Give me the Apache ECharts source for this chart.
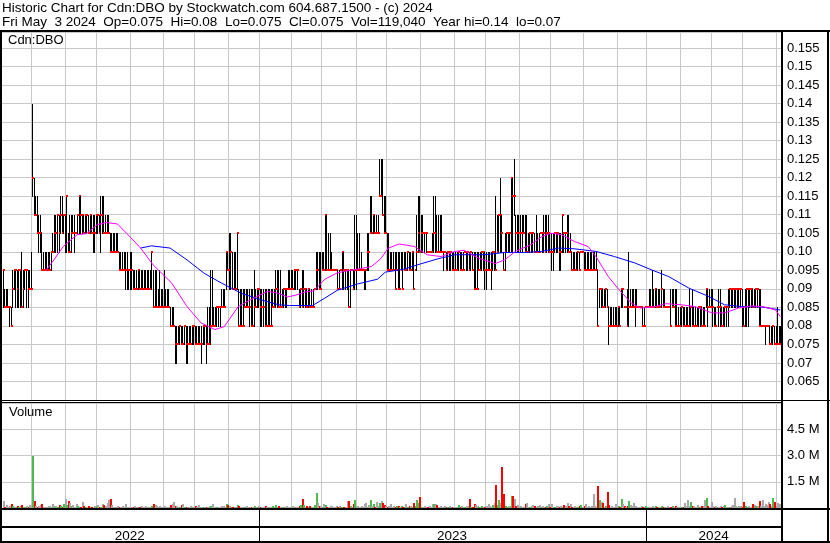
<!DOCTYPE html>
<html><head><meta charset="utf-8">
<script src="https://cdn.jsdelivr.net/npm/echarts@6/dist/echarts.min.js"></script>
<style>html,body{margin:0;padding:0;background:#fff}#c{width:830px;height:543px}</style>
</head><body><div id="c"></div>
<script>
// ---- data (prices in cents, volume in thousands of shares) ----
const startDate = '2022-05-04';
const endDate = '2024-05-03';
const holidays = ['2022-05-23','2022-07-01','2022-08-01','2022-09-05','2022-10-10','2022-12-26','2022-12-27',
 '2023-01-02','2023-02-20','2023-04-07','2023-05-22','2023-07-03','2023-08-07','2023-09-04','2023-10-09','2023-12-25','2023-12-26',
 '2024-01-01','2024-02-19','2024-03-29'];

const highs = [
9.5,9,9,9,8.5,8.5,9.5,9.5,9.5,9.5,
9.5,9.5,10,9.5,9.5,9.5,9.5,9.5,10,14,
12,11.5,11.5,11,11,10.5,10,10,10,10,
10,10,10.5,11,11,11,11,11.5,11.5,11,
11,11.5,10.5,11,11,11,11,10.5,11,11.5,
11.5,11,11,11,11,11,11,11,11,11,
11,11,11,11.5,11.5,11.5,11,11,11,10.5,
10.5,10.5,10.5,10.5,10.5,10,10,10,10,10,
10,9.5,10,10,9.5,9.5,9.5,9.5,9.5,9.5,
9.5,9.5,9.5,9.5,9.5,9.5,10,9.5,9.5,9.5,
9,9.5,9,9,9.5,9,9,9,8.5,8.5,
8.5,8,8,8,8,8,8,8,8,8,
8,8,8,8,8,8,8,8,8,8,
8,8,8.5,8.5,9.5,9.5,8.5,8.5,8.5,8.5,
8.5,9,9,9,10,10,10.5,10.5,10,10,
10,10.5,9,9,9,9,9,9,9,9,
9,9,9.5,9,9,9,9,9,9,9,
9,9,9,9,9,9,9.5,9.5,9.5,9.5,
9,9,9,9,9.5,9.5,9.5,9.5,9.5,9.5,
9.5,9,9,9.5,9.5,9,9,9,9,9,
9,9,10,10,10,10,10,10,11,11,
10.5,10.5,10,9.5,9.5,9.5,9.5,9.5,9.5,10,
10,9.5,9.5,9.5,9.5,9.5,9.5,11,11,10.5,
10.5,10,9.5,9.5,9.5,10.5,10.5,11.5,11.5,11,
11,11,11,12.5,12.5,12.5,11.5,11.5,10.5,10.5,
10,10,10,10,10,10,10,10,10,10,
10,10,10,10,10,10,9.5,11,11.5,11.5,
11,11,10.5,10.5,10,10,10,10.5,11.5,11.5,
11,11,11,11,10,10,10,10,10,10,
10,10,10,10,10,10,10,10,10,10,
10,10,10,10,10,10,10,10,10,10,
10,10,10,10,10,10,10,10,11.5,11,
11,12,11,10,10.5,10.5,10.5,10.5,12,12,
12.5,11,11,11,11,11,11,11,11,10.5,
10.5,10.5,10.5,10.5,11,10.5,10.5,10.5,10.5,11,
11,11,11,10.5,10.5,10.5,10.5,10.5,10.5,10.5,
10.5,11,10.5,10.5,11,11,10.5,10,10,10,
10,10,10,10,10,10,10,10,10,10,
10,10,10,10,9.5,9,9,9,9,9,
9,8.5,8.5,8.5,8.5,8.5,8.5,8.5,8.5,9,
9,8.5,8.5,9,10,9,9,9,9,9,
8.5,8.5,8.5,8.5,8.5,8.5,8.5,9,9,9.5,
9,9,9,9,9,9.5,9,9,8.5,8.5,
8.5,9,9,9,9,9,8.5,8.5,8.5,8.5,
8.5,8.5,8.5,9,8.5,9,8.5,8.5,8.5,8.5,
8.5,8.5,8.5,8.5,9,9,9,9,9,8.5,
8.5,8.5,9,9,8.5,8.5,8.5,8.5,9,9,
9,9,9,9,9,9,9,9,8.5,9,
9,9,9,9,9,9,9,9,9,9,
8,8,8,8,8,8,8,8,8,8,
8.5,8,8];

const lows = [
8.5,8.5,8.5,8.5,8,8,8.5,9,8.5,8.5,
8.5,8.5,8.5,8.5,9,8.5,8.5,9,9,11.5,
11,11,10.5,10,10,9.5,9.5,9.5,9.5,9.5,
9.5,9.5,10,10,10,10,10,10.5,10.5,10.5,
10,10,10,10,10,10.5,10,10.5,10.5,10.5,
10.5,10.5,10.5,10.5,10.5,10.5,10.5,10.5,10,10,
10.5,10.5,10.5,10,10.5,10.5,10.5,10.5,10.5,10,
10,10,10,10,10,9.5,9.5,9.5,9.5,9,
9,9,9,9,9,9,9,9,9,9,
9,9,9,9,9,9,9,8.5,8.5,8.5,
8.5,8.5,8.5,8.5,8.5,8.5,8.5,8.5,8,8,
8,7,7,7.5,7.5,7.5,7.5,7.5,7,7,
7.5,7.5,7.5,7.5,7.5,7.5,7.5,7.5,7,7.5,
7.5,7,7.5,7.5,7.5,8,8,8,8,8,
8,8.5,8.5,8.5,9,9.5,9,9,9,9,
9,9,8,8,8,8,8.5,8.5,8.5,8,
8,8,8,8.5,8.5,8.5,8,8,8,8,
8,8,8,8,8.5,8.5,8.5,8.5,8.5,8.5,
8.5,8.5,8.5,8.5,9,9,9,9,9,9,
9,8.5,8.5,8.5,8.5,8.5,8.5,8.5,8.5,8.5,
8.5,9,9,9,9,9,9.5,9.5,9.5,9.5,
9.5,9.5,9.5,9.5,9.5,9.5,9,9,9.5,9,
9,9,9,8.5,8.5,9.5,9,9,9,9.5,
9.5,9.5,9.5,9,9,9.5,9.5,10.5,10.5,10.5,
10.5,10.5,10.5,11.5,11.5,11,10.5,10.5,9.5,9.5,
9.5,9.5,9.5,9,9.5,9,9,9.5,9,9.5,
9.5,9.5,9.5,9.5,9.5,9,9.5,9.5,10,10,
10,10,10,10,10,10,10,10,10,10,
10,10,10,10,9.5,10,9.5,9.5,9.5,9.5,
9.5,9.5,9.5,9.5,9.5,9.5,9.5,9.5,10,9.5,
9.5,9.5,9.5,9.5,9,9,9,9.5,9.5,9.5,
9.5,9,9,9.5,9.5,9,9.5,9.5,9.5,10,
10,10,10,9.5,9.5,10,10,10,10,10,
11,10,10,10,10,10,10.5,10,10,10,
10,10,10,10,10,10,10,10.5,10,10,
10,10,10,10,9.5,9.5,10,10,10,9.5,
9.5,10,10,10,10,10,10,9.5,9.5,9.5,
9.5,9.5,9.5,10,10,9.5,9.5,9.5,9.5,9.5,
9.5,9.5,9.5,9.5,8,8.5,8.5,8.5,8.5,8.5,
8.5,7.5,8,8,8,8,8,8,8,8.5,
8.5,8.5,8.5,8,8,8.5,8.5,8.5,8,8.5,
8.5,8.5,8.5,8,8,8.5,8.5,8.5,8.5,8.5,
8.5,8.5,8.5,8.5,8.5,8.5,8.5,8.5,8.5,8.5,
8.5,8,8.5,8.5,8,8,8,8,8,8,
8,8,8,8,8,8,8,8,8,8,
8,8,8,8,8.5,8,8.5,8.5,8,8,
8,8.5,8,8,8,8,8,8,8,8.5,
8.5,8.5,8.5,8.5,8.5,8.5,8.5,8,8,8,
8,8,8.5,8.5,8.5,8.5,8.5,8.5,8,8,
8,8,7.5,8,8,7.5,7.5,7.5,7.5,7.5,
7.5,7.5,7.5];

const closes = [
9.5,8.5,8.5,8.5,8.5,8,9,9.5,9.5,9,
9.5,9.5,8.5,9,9.5,9.5,9,9,9,12,
11,11,10.5,10.5,10.5,9.5,9.5,9.5,9.5,9.5,
9.5,10,10,10.5,10.5,11,10.5,11,10.5,11,
11,11.5,10,10,10.5,10.5,10.5,10.5,11,11.5,
11,11,10.5,11,11,10.5,11,10.5,10.5,10.5,
11,11,10.5,11,11,10.5,10.5,10.5,10.5,10,
10,10,10,10,10,9.5,9.5,9.5,9.5,9.5,
9.5,9.5,9.5,9.5,9,9,9,9.5,9,9,
9,9,9,9,9,9,10,8.5,8.5,8.5,
8.5,8.5,8.5,8.5,8.5,8.5,8.5,8.5,8,8,
8,7.5,7.5,7.5,8,7.5,7.5,8,7.5,7.5,
7.5,7.5,8,8,7.5,7.5,7.5,7.5,7.5,8,
8,7.5,7.5,7.5,8,8,8,8,8.5,8.5,
8.5,8.5,8.5,8.5,10,9.5,9.5,10,9,9,
9,10.5,8,8,8,8,8.5,8.5,8.5,8.5,
8,8,8.5,8.5,9,9,8.5,8.5,8.5,8,
8,8,8,8,8.5,8.5,9,9,8.5,8.5,
8.5,9,9,9,9,9,9,9,9.5,9.5,
9.5,8.5,9,8.5,9,9,8.5,9,8.5,8.5,
8.5,9,9.5,9.5,9,9,9.5,9.5,11,9.5,
9.5,9.5,9.5,9.5,9.5,9.5,9,9,9.5,10,
9.5,9.5,9.5,8.5,9.5,9.5,9,9.5,9.5,9.5,
9.5,9.5,9.5,9.5,9.5,10,10,10.5,10.5,11,
10.5,10.5,10.5,11.5,11.5,11,10.5,10.5,9.5,9.5,
9.5,9.5,9.5,9,9.5,9,9,9.5,9,9.5,
9.5,10,9.5,9.5,10,9,9.5,10,10.5,10,
10.5,10.5,10.5,10.5,10,10,10,10,10.5,10.5,
10,10,10,10,10,10,9.5,10,10,10,
9.5,9.5,9.5,9.5,10,9.5,9.5,9.5,10,10,
10,9.5,10,9.5,9,9,9,9.5,9.5,10,
10,9.5,9.5,9.5,9.5,9.5,10,10,9.5,10,
11,11,10.5,9.5,10,10.5,10.5,10.5,12,11.5,
11.5,10.5,10.5,10.5,10.5,10.5,10.5,10,10,10,
10.5,10.5,10.5,10,10,10,10,10.5,10.5,10.5,
10,10.5,10.5,10,10,10,10.5,10.5,10.5,10,
10,11,10.5,10.5,10.5,10,10,9.5,9.5,9.5,
9.5,10,9.5,10,10,9.5,9.5,9.5,9.5,9.5,
9.5,9.5,9.5,9.5,8,9,9,8.5,8.5,9,
8.5,8,8,8,8,8,8,8.5,8,9,
9,8.5,8.5,8,8.5,8.5,8.5,8.5,8.5,8.5,
8.5,8.5,8.5,8,8,8.5,8.5,8.5,8.5,8.5,
8.5,9,8.5,8.5,8.5,9,8.5,8.5,8.5,8.5,
8.5,8,8.5,8.5,8,8,8,8,8.5,8,
8,8,8,8,8.5,8,8,8,8,8.5,
8.5,8,8,8,9,8.5,8.5,8.5,8.5,8,
8,8.5,8.5,8.5,8,8,8.5,8.5,8.5,9,
9,9,9,9,9,9,9,8.5,8,8.5,
9,9,9,9,8.5,8.5,9,9,8,8,
8,8,8,8,8,7.5,7.5,8,7.5,7.5,
7.5,7.5,7.5];

const volumes = [
400,80,150,60,120,220,90,40,60,130,
50,90,180,70,40,110,60,150,90,2950,
380,120,60,100,150,200,80,50,60,100,
140,70,250,90,120,60,180,100,40,200,
500,150,420,300,90,160,60,200,130,70,
80,350,140,60,40,100,50,30,60,120,
90,180,50,70,200,150,90,280,450,500,
160,80,60,40,100,60,30,90,50,200,
70,40,60,30,80,110,50,40,60,90,
30,50,120,80,40,60,110,250,180,90,
60,140,40,80,120,70,50,30,180,200,
350,120,90,60,40,150,220,80,50,60,
30,90,50,40,100,60,150,40,30,70,
40,60,50,120,90,200,80,60,40,50,
30,90,130,70,220,150,100,60,40,80,
50,150,120,70,40,60,30,90,60,40,
80,50,100,60,30,120,60,40,70,90,
50,30,60,40,110,80,150,60,90,50,
40,70,60,100,50,80,60,120,40,70,
60,100,180,500,150,60,90,40,130,50,
70,160,860,300,120,90,40,200,150,60,
80,120,100,60,40,140,70,90,50,40,
80,60,400,380,110,60,220,450,90,140,
40,100,60,220,300,60,160,450,90,250,
70,330,120,260,420,300,180,100,60,140,
220,80,90,60,140,120,50,90,70,40,
200,60,100,140,50,300,90,450,280,600,
60,80,120,40,60,90,40,200,210,200,
180,60,90,50,70,100,40,60,120,50,
30,80,60,40,150,70,100,50,60,90,
130,500,80,60,200,180,130,60,40,100,
70,60,90,250,140,60,180,280,1340,150,
480,300,2330,820,120,60,90,140,700,700,
500,100,150,60,90,40,60,200,300,80,
60,120,180,100,40,90,150,60,110,70,
40,90,200,60,250,80,60,100,130,40,
90,60,180,110,300,120,200,70,50,140,
60,40,90,150,60,100,220,60,130,80,
120,820,100,60,1240,450,350,300,60,100,
900,160,50,90,80,250,60,100,40,500,
200,140,60,90,400,180,100,300,120,70,
60,40,90,50,80,140,60,40,70,100,
50,90,60,40,70,100,50,80,60,120,
40,70,90,60,110,50,60,80,40,60,
300,130,450,100,320,120,90,60,180,40,
60,90,120,450,550,100,60,320,90,70,
140,80,60,120,50,90,150,60,40,80,
100,150,550,90,60,110,120,60,350,90,
60,130,80,60,200,150,90,100,400,120,
450,90,250,160,350,200,120,550,350,100,
300,250,119];

// moving averages (bar number, value in cents)
const maFastDay = [28,33,39,48,54,61,67,74,82,89,97,109,119,128,137,143,152,162,171,178,184,190,195,201,208,216,223,229,238,244,249,256,266,274,283,292,298,307,318,324,331,341,348,354,361,369,378,383,391,398,406,412,421,428,438,447,458,466,475,484,492,499,502];
const maFastVal = [9.50,9.78,10.14,10.46,10.49,10.73,10.79,10.75,10.41,10.10,9.65,9.16,8.52,8.08,7.90,7.98,8.52,8.75,8.93,8.88,8.78,8.84,8.91,8.95,9.26,9.43,9.49,9.53,9.60,9.81,10.10,10.21,10.14,9.92,9.87,10.01,10.04,9.83,9.68,9.78,10.01,10.19,10.41,10.50,10.46,10.28,10.14,9.87,9.33,8.97,8.61,8.48,8.52,8.60,8.57,8.52,8.35,8.35,8.48,8.54,8.51,8.43,8.25];
const maSlowDay = [89,96,108,119,130,141,154,167,178,185,200,208,216,229,242,247,259,268,281,292,311,324,337,348,359,369,383,395,408,419,430,443,456,466,477,490,502];
const maSlowVal = [10.10,10.16,10.10,9.78,9.42,9.16,8.88,8.70,8.57,8.55,8.55,8.75,8.96,9.13,9.26,9.45,9.53,9.65,9.81,9.92,9.92,9.98,9.98,10.01,10.10,10.08,10.01,9.87,9.70,9.51,9.33,9.02,8.79,8.57,8.52,8.51,8.43];

const priceTicks = {min: 6, max: 15.93, step: 0.5};
const volTicks = {min: 0, max: 6000, step: 1500};

// ---- trading-day categories ----
const dates = [];
(function(){
  const hs = new Set(holidays);
  const d = new Date(startDate + 'T00:00:00Z');
  const e = new Date(endDate + 'T00:00:00Z');
  while (d <= e) {
    const wd = d.getUTCDay();
    const s = d.toISOString().slice(0,10);
    if (wd !== 0 && wd !== 6 && !hs.has(s)) dates.push(s);
    d.setUTCDate(d.getUTCDate() + 1);
  }
})();
const N = closes.length;
while (dates.length < N) dates.push(dates[dates.length-1]);
dates.length = N;

const monthStart = i => i > 0 && dates[i].slice(0,7) !== dates[i-1].slice(0,7);
const yearStart = i => i > 0 && dates[i].slice(0,4) !== dates[i-1].slice(0,4);
const yearMid = new Set();
(function(){
  let s = 0;
  for (let i = 1; i <= N; i++) {
    if (i === N || yearStart(i)) { yearMid.add(Math.floor((s + i - 1) / 2)); s = i; }
  }
})();

const ohlc = closes.map((c, i) => [i, highs[i], lows[i], c]);
const volData = volumes.map((v, i) => [i, v, i === 0 ? 0 : Math.sign(closes[i] - closes[i-1])]);
const maFast = maFastDay.map((d, k) => [d, maFastVal[k]]);
const maSlow = maSlowDay.map((d, k) => [d, maSlowVal[k]]);

const FONT = 'Liberation Sans, Arial, sans-serif';
const GRID = '#c8c8c8';
const L = 2, W = 779;

function fmtPrice(v) {
  const d = v / 100;
  let s = d.toFixed(3);
  if (s.endsWith('0')) s = d.toFixed(2);
  return s;
}

const catAxis = (gi, extra) => Object.assign({
  type: 'category', gridIndex: gi, data: dates, boundaryGap: true,
  axisLine: {show: false}, axisTick: {show: false, interval: monthStart},
  axisLabel: {show: false},
  splitLine: {show: true, interval: monthStart, lineStyle: {color: GRID, width: 1}}
}, extra || {});

const HDR = {fontFamily: FONT, fontSize: 13.5, fontWeight: 'normal', color: '#000'};
const LBL = {fontFamily: FONT, fontSize: 13, fontWeight: 'normal', color: '#000'};

const chart = echarts.init(document.getElementById('c'), null, {renderer: 'canvas'});
chart.setOption({
  animation: false,
  backgroundColor: '#fff',
  title: [
    {text: 'Historic Chart for Cdn:DBO by Stockwatch.com 604.687.1500 - (c) 2024', left: 2, top: 1, padding: 0, textStyle: HDR},
    {text: 'Fri May  3 2024  Op=0.075  Hi=0.08  Lo=0.075  Cl=0.075  Vol=119,040  Year hi=0.14  lo=0.07', left: 2, top: 15, padding: 0, textStyle: HDR},
    {text: 'Cdn:DBO', left: 8, top: 34, padding: 0, textStyle: LBL},
    {text: 'Volume', left: 9, top: 406, padding: 0, textStyle: LBL}
  ],
  grid: [
    {left: L, width: W, top: 32, height: 368},
    {left: L, width: W, top: 403, height: 105},
    {left: L, width: W, top: 509, height: 18},
    {left: L, width: W, top: 527, height: 15}
  ],
  xAxis: [
    catAxis(0),
    catAxis(1),
    catAxis(2, {axisTick: {show: false, interval: yearStart},
      splitLine: {show: true, interval: yearStart, lineStyle: {color: '#000', width: 1}}}),
    catAxis(3, {axisTick: {show: false, interval: yearStart},
      splitLine: {show: true, interval: yearStart, lineStyle: {color: '#000', width: 1}},
      axisLabel: {show: true, inside: true, margin: -1, interval: (i) => yearMid.has(i),
        formatter: v => v.slice(0,4), color: '#000', fontFamily: FONT, fontSize: 13.5}})
  ],
  yAxis: [
    {type: 'value', gridIndex: 0, position: 'right', min: priceTicks.min, max: priceTicks.max, interval: priceTicks.step,
     axisLine: {show: false}, axisTick: {show: false},
     axisLabel: {show: true, margin: 6, formatter: fmtPrice, color: '#000', fontFamily: FONT, fontSize: 13,
       showMinLabel: false, showMaxLabel: false},
     splitLine: {show: true, lineStyle: {color: GRID, width: 1}}},
    {type: 'value', gridIndex: 1, position: 'right', min: volTicks.min, max: volTicks.max, interval: volTicks.step,
     axisLine: {show: false}, axisTick: {show: false},
     axisLabel: {show: true, margin: 6, formatter: v => (v/1000).toFixed(1) + ' M', color: '#000', fontFamily: FONT, fontSize: 13,
       showMinLabel: false, showMaxLabel: false},
     splitLine: {show: true, lineStyle: {color: GRID, width: 1}}},
    {type: 'value', gridIndex: 2, show: false},
    {type: 'value', gridIndex: 3, show: false}
  ],
  series: [
    {type: 'custom', xAxisIndex: 0, yAxisIndex: 0, data: ohlc, encode: {x: 0, y: [1,2,3]}, clip: true,
     renderItem: function(params, api) {
       const i = api.value(0);
       const ph = api.coord([i, api.value(1)]);
       const pl = api.coord([i, api.value(2)]);
       const pc = api.coord([i, api.value(3)]);
       const xr = Math.round(ph[0]);
       return {type: 'group', children: [
         {type: 'rect', shape: {x: xr, y: Math.round(ph[1]), width: 1, height: Math.max(1, Math.round(pl[1]) - Math.round(ph[1]) + 1)},
          style: {fill: '#000'}},
         {type: 'rect', shape: {x: xr, y: Math.round(pc[1]) - 1, width: 2, height: 2}, style: {fill: '#ff0000'}}
       ]};
     }},
    {type: 'line', xAxisIndex: 0, yAxisIndex: 0, data: maSlow, showSymbol: false, symbol: 'none',
     lineStyle: {color: '#0000ff', width: 1}, z: 5},
    {type: 'line', xAxisIndex: 0, yAxisIndex: 0, data: maFast, showSymbol: false, symbol: 'none',
     lineStyle: {color: '#ff00ff', width: 1}, z: 5},
    {type: 'custom', xAxisIndex: 1, yAxisIndex: 1, data: volData, encode: {x: 0, y: 1}, clip: true,
     renderItem: function(params, api) {
       const i = api.value(0);
       const top = api.coord([i, api.value(1)]);
       const base = api.coord([i, 0]);
       const dir = api.value(2);
       const col = dir > 0 ? '#4cbc4c' : (dir < 0 ? '#ff0000' : '#a8a8a8');
       const x = Math.round(top[0]);
       const h = Math.max(1, Math.round(base[1] - top[1]));
       return {type: 'rect', shape: {x: x, y: Math.round(base[1]) - h, width: 2, height: h}, style: {fill: col}};
     }}
  ],
  graphic: [
    {type: 'rect', shape: {x: 0, y: 30, width: 830, height: 2}, style: {fill: '#000'}, z: 100},
    {type: 'rect', shape: {x: 0, y: 30, width: 2, height: 513}, style: {fill: '#000'}, z: 100},
    {type: 'rect', shape: {x: 781, y: 30, width: 2, height: 513}, style: {fill: '#000'}, z: 100},
    {type: 'rect', shape: {x: 827, y: 30, width: 2, height: 513}, style: {fill: '#000'}, z: 100},
    {type: 'rect', shape: {x: 0, y: 400, width: 830, height: 1}, style: {fill: '#000'}, z: 100},
    {type: 'rect', shape: {x: 0, y: 402, width: 782, height: 1}, style: {fill: '#000'}, z: 100},
    {type: 'rect', shape: {x: 0, y: 508, width: 830, height: 2}, style: {fill: '#000'}, z: 100},
    {type: 'rect', shape: {x: 0, y: 526, width: 783, height: 2}, style: {fill: '#000'}, z: 100},
    {type: 'rect', shape: {x: 0, y: 541, width: 830, height: 2}, style: {fill: '#000'}, z: 100}
  ]
});
</script>
</body></html>
